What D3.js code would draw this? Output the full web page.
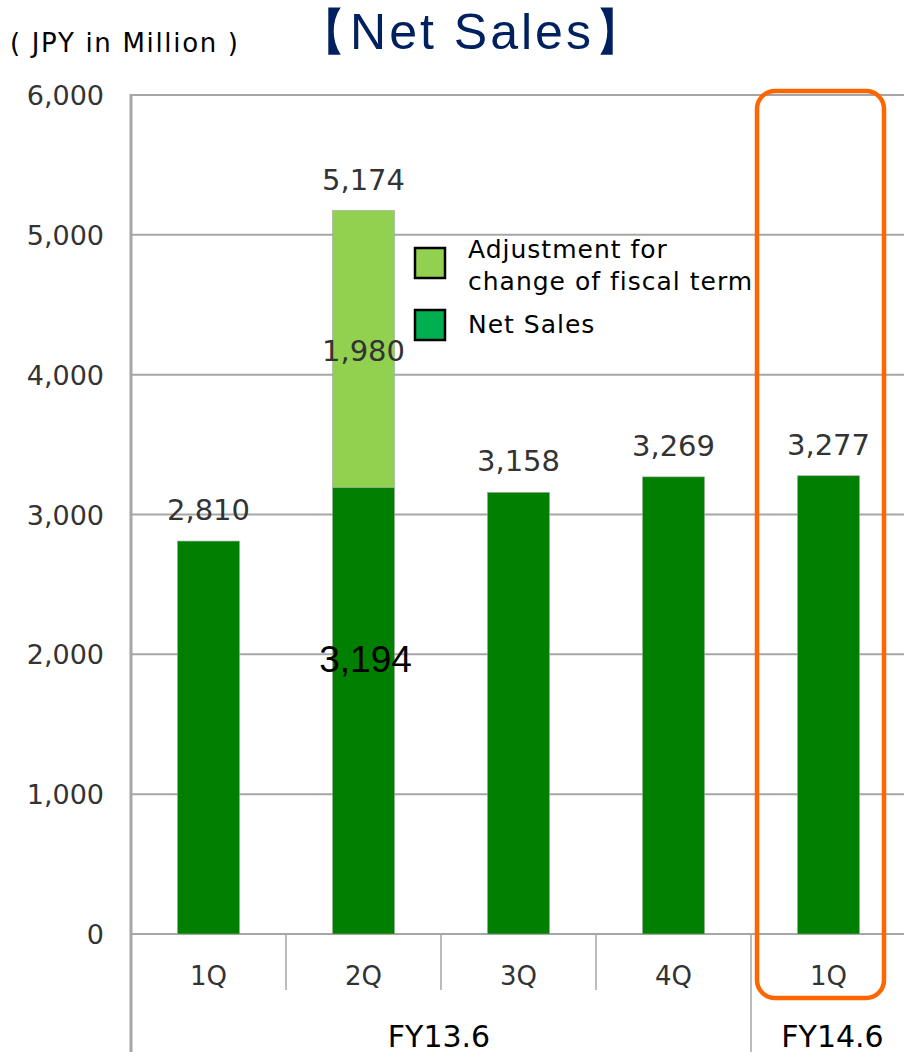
<!DOCTYPE html>
<html lang="en">
  <head>
    <meta charset="UTF-8" />
    <title>Net Sales</title>
    <script src="https://d3js.org/d3.v7.min.js"></script>
    <style>
      body {
        margin: 0;
        background: #fff;
        font-family: "DejaVu Sans", Verdana, sans-serif;
      }
      svg {
        display: block;
      }
    </style>
  </head>
  <body>
    <svg id="chart" width="904" height="1060"></svg>
    <script>
      // data
      const quarters = ["1Q", "2Q", "3Q", "4Q", "1Q"];
      const netSales = [2810, 3194, 3158, 3269, 3277];
      const adjustment = [0, 1980, 0, 0, 0];
      const totals = [2810, 5174, 3158, 3269, 3277];
      const fiscalYears = ["FY13.6", "FY14.6"];
      const fiscalSpan = [4, 1]; // quarters in each fiscal year
      const yTicks = [0, 1000, 2000, 3000, 4000, 5000, 6000];

      const svg = d3.select("#chart");
      const plotL = 131,
        plotR = 906,
        plotT = 95,
        plotB = 934;
      const fmt = d3.format(",");

      const x = d3
        .scaleBand()
        .domain(d3.range(quarters.length))
        .range([plotL, plotR])
        .padding(0);
      const y = d3.scaleLinear().domain([0, 6000]).range([plotB, plotT]);
      const barW = x.bandwidth() * 0.4;

      // grid
      svg
        .append("g")
        .selectAll("line")
        .data(yTicks)
        .join("line")
        .attr("x1", plotL)
        .attr("x2", plotR)
        .attr("y1", (d) => y(d))
        .attr("y2", (d) => y(d))
        .attr("stroke", "#a6a6a6")
        .attr("stroke-width", 2);

      // y tick labels
      svg
        .append("g")
        .selectAll("text")
        .data(yTicks)
        .join("text")
        .attr("x", 104)
        .attr("y", (d) => y(d) + 10)
        .attr("text-anchor", "end")
        .attr("font-size", 27)
        .attr("fill", "#333")
        .text((d) => fmt(d));

      // y axis line
      svg
        .append("line")
        .attr("x1", plotL)
        .attr("x2", plotL)
        .attr("y1", plotT - 1)
        .attr("y2", 1052)
        .attr("stroke", "#a6a6a6")
        .attr("stroke-width", 3);

      // bars
      const stack = d3.stack().keys(["net", "adj"]);
      const rows = quarters.map((q, i) => ({
        i,
        net: netSales[i],
        adj: adjustment[i],
      }));
      const colors = { net: "#007f00", adj: "#92d050" };
      svg
        .append("g")
        .selectAll("g")
        .data(stack(rows))
        .join("g")
        .attr("fill", (d) => colors[d.key])
        .selectAll("rect")
        .data((d) => d.filter((p) => p[1] > p[0]))
        .join("rect")
        .attr("x", (d) => x(d.data.i) + (x.bandwidth() - barW) / 2)
        .attr("y", (d) => y(d[1]))
        .attr("width", barW)
        .attr("height", (d) => y(d[0]) - y(d[1]))
        .attr("stroke", "#9aa89a")
        .attr("stroke-width", 0.6);

      // total labels
      svg
        .append("g")
        .selectAll("text")
        .data(totals)
        .join("text")
        .attr("x", (d, i) => x(i) + x.bandwidth() / 2)
        .attr("y", (d) => y(d) - 21)
        .attr("text-anchor", "middle")
        .attr("font-size", 29)
        .attr("fill", "#333")
        .text((d) => fmt(d));

      // inside labels for 2Q
      const adjIdx = adjustment.findIndex((v) => v > 0);
      svg
        .append("text")
        .attr("x", x(adjIdx) + x.bandwidth() / 2)
        .attr("y", y(netSales[adjIdx] + adjustment[adjIdx]) + 150)
        .attr("text-anchor", "middle")
        .attr("font-size", 29)
        .attr("fill", "#333")
        .text(fmt(adjustment[adjIdx]));
      svg
        .append("text")
        .attr("x", x(adjIdx) + x.bandwidth() / 2 + 2)
        .attr("y", y(netSales[adjIdx]) + 185)
        .attr("text-anchor", "middle")
        .attr("font-family", "Liberation Sans, Arial, sans-serif")
        .attr("font-size", 37)
        .attr("fill", "#000")
        .text(fmt(netSales[adjIdx]));

      // category axis
      const cat = svg.append("g");
      cat
        .selectAll("line")
        .data(d3.range(1, quarters.length))
        .join("line")
        .attr("x1", (i) => x(i))
        .attr("x2", (i) => x(i))
        .attr("y1", plotB)
        .attr("y2", (i) => (i === fiscalSpan[0] ? 1052 : 990))
        .attr("stroke", "#a6a6a6")
        .attr("stroke-width", 1.5);
      cat
        .selectAll("text")
        .data(quarters)
        .join("text")
        .attr("x", (d, i) => x(i) + x.bandwidth() / 2)
        .attr("y", 985)
        .attr("text-anchor", "middle")
        .attr("font-size", 26)
        .attr("fill", "#333")
        .text((d) => d);

      let start = 0;
      fiscalYears.forEach((fy, k) => {
        const x0 = x(start);
        const x1 = x(start + fiscalSpan[k] - 1) + x.bandwidth();
        svg
          .append("text")
          .attr("x", (x0 + x1) / 2 + (k === 1 ? 4 : -2))
          .attr("y", 1047)
          .attr("text-anchor", "middle")
          .attr("font-size", 30)
          .attr("fill", "#000")
          .text(fy);
        start += fiscalSpan[k];
      });

      // highlight box
      svg
        .append("rect")
        .attr("x", 757)
        .attr("y", 91)
        .attr("width", 127)
        .attr("height", 907)
        .attr("rx", 18)
        .attr("fill", "none")
        .attr("stroke", "#ff6600")
        .attr("stroke-width", 4.5);

      // legend
      const legendItems = [
        { label: ["Adjustment for", "change of fiscal term"], color: "#92d050", y: 248 },
        { label: ["Net Sales"], color: "#00b050", y: 310 },
      ];
      const lg = svg
        .append("g")
        .selectAll("g")
        .data(legendItems)
        .join("g")
        .attr("transform", (d) => `translate(415,${d.y})`);
      lg.append("rect")
        .attr("width", 30)
        .attr("height", 30)
        .attr("fill", (d) => d.color)
        .attr("stroke", "#000")
        .attr("stroke-width", 2.5);
      lg.append("text")
        .attr("font-size", 25)
        .attr("letter-spacing", 1)
        .attr("fill", "#000")
        .selectAll("tspan")
        .data((d) => d.label)
        .join("tspan")
        .attr("x", 53)
        .attr("y", (d, i, n) => (n.length > 1 ? 10 + i * 32 : 23))
        .text((d) => d);

      // titles
      svg
        .append("text")
        .attr("x", 10)
        .attr("y", 52)
        .attr("font-size", 26)
        .attr("textLength", 228)
        .attr("lengthAdjust", "spacing")
        .attr("fill", "#000")
        .text("( JPY in Million )");
      svg
        .append("text")
        .attr("x", 472)
        .attr("y", 49)
        .attr("text-anchor", "middle")
        .attr("font-family", "Liberation Sans, Arial, sans-serif")
        .attr("font-size", 50)
        .attr("letter-spacing", 3)
        .attr("fill", "#002060")
        .text("【Net Sales】");
    </script>
  </body>
</html>
